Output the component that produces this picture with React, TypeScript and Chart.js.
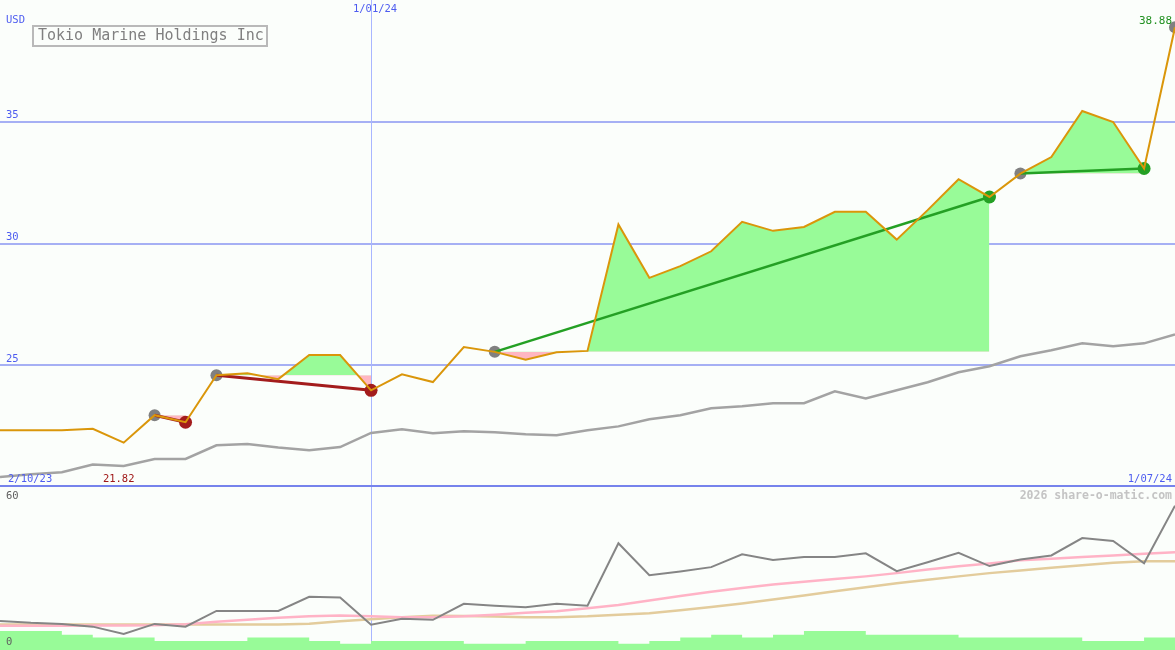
import React, { useEffect, useRef } from 'react';
import { Chart, registerables } from 'chart.js';

Chart.register(...registerables);

// ---- data ----
const title = 'Tokio Marine Holdings Inc';
const currency = 'USD';
const dateLabels = ['2/10/23', '1/01/24', '1/07/24'];
const dateIndex = [0, 12, 38];
const priceGrid = [25, 30, 35];
const lowerLabels = ['60', '0'];
const watermark = '2026 share-o-matic.com';

const price = [22.33, 22.33, 22.33, 22.39, 21.82, 22.95, 22.66, 24.59, 24.67, 24.43, 25.42, 25.42, 23.97, 24.63, 24.31, 25.75, 25.55, 25.23, 25.53, 25.59, 30.78, 28.59, 29.07, 29.68, 30.89, 30.52, 30.68, 31.30, 31.30, 30.16, 31.37, 32.64, 31.91, 32.87, 33.55, 35.44, 34.99, 33.08, 38.88];
const avgPrice = [20.41, 20.52, 20.61, 20.92, 20.86, 21.15, 21.15, 21.71, 21.77, 21.62, 21.51, 21.64, 22.22, 22.37, 22.21, 22.29, 22.25, 22.17, 22.13, 22.33, 22.49, 22.78, 22.95, 23.23, 23.32, 23.44, 23.44, 23.93, 23.64, 23.97, 24.30, 24.71, 24.96, 25.37, 25.62, 25.90, 25.78, 25.90, 26.27];

// signals: start (grey dot) -> end (red = loss, green = gain)
const signalStart = [5, 7, 16, 33];
const signalEnd = [6, 12, 32, 37];
const openSignals = [38];

const oscillator = [10.7, 10.0, 9.6, 8.6, 5.9, 9.6, 8.6, 14.4, 14.4, 14.4, 19.6, 19.3, 9.3, 11.5, 11.1, 17.0, 16.3, 15.7, 17.0, 16.3, 39.3, 27.5, 28.9, 30.5, 35.2, 33.1, 34.2, 34.2, 35.6, 29.0, 32.3, 35.8, 30.9, 33.3, 34.8, 41.2, 40.1, 31.9, 53.1];
const oscAvgFast = [8.9, 8.9, 8.9, 9.0, 9.0, 9.1, 9.5, 10.4, 11.1, 11.9, 12.4, 12.7, 12.4, 12.1, 12.1, 12.4, 13.0, 13.7, 14.3, 15.4, 16.6, 18.2, 19.9, 21.4, 22.8, 24.1, 25.1, 26.1, 27.1, 28.3, 29.6, 30.8, 31.8, 33.0, 33.6, 34.2, 34.8, 35.4, 36.0];
const oscAvgSlow = [9.4, 9.4, 9.4, 9.4, 9.4, 9.4, 9.4, 9.4, 9.4, 9.4, 9.7, 10.6, 11.3, 12.1, 12.6, 12.5, 12.3, 12.1, 12.1, 12.4, 13.0, 13.5, 14.6, 15.8, 17.1, 18.6, 20.1, 21.6, 23.1, 24.6, 25.9, 27.1, 28.3, 29.3, 30.3, 31.2, 32.1, 32.7, 32.7];
const volume = [7.0, 7.0, 5.6, 4.6, 4.6, 3.3, 3.3, 3.3, 4.6, 4.6, 3.3, 2.3, 3.3, 3.3, 3.3, 2.3, 2.3, 3.3, 3.3, 3.3, 2.3, 3.3, 4.6, 5.6, 4.6, 5.6, 7.0, 7.0, 5.6, 5.6, 5.6, 4.6, 4.6, 4.6, 4.6, 3.3, 3.3, 4.6, 4.6];

// ---- style ----
const W = 1175;
const H_TOP = 487;
const H_BOT = 163;
const BG = '#fbfefb';
const BLUE_TEXT = '#4d5cf0';
const GRID = '#a6b0f4';
const VLINE = '#a8b6ff';
const SEP = '#7683ec';
const ORANGE = '#da960a';
const GREEN_FILL = '#98fb98';
const PINK_FILL = '#ffb6c1';
const RED = '#a31c1c';
const GREEN = '#24a024';
const GREY_DOT = '#808080';
const MONO = '"DejaVu Sans Mono", "Liberation Mono", monospace';

const labels = price.map((_, i) => i);
const within = (arr: number[], a: number, b: number) => arr.map((v, i) => (i >= a && i <= b ? v : null));
const flat = (v: number, a: number, b: number) => labels.map((i) => (i >= a && i <= b ? v : null));
const pick = (arr: number[], list: number[]) => arr.map((v, i) => (list.includes(i) ? v : null));

export default function App() {
  const topRef = useRef<HTMLCanvasElement>(null);
  const botRef = useRef<HTMLCanvasElement>(null);

  useEffect(() => {
    document.body.style.margin = '0';
    const ctxTop = topRef.current!;
    const ctxBot = botRef.current!;

    const bases = signalStart.map((s, k) => ({
      data: flat(price[s], s, signalEnd[k]),
      borderWidth: 0,
      pointRadius: 0,
      fill: false,
      order: 20,
    }));
    const fills = signalStart.map((s, k) => ({
      data: within(price, s, signalEnd[k]),
      borderWidth: 0,
      borderColor: 'rgba(0,0,0,0)',
      pointRadius: 0,
      fill: { target: k, above: GREEN_FILL, below: PINK_FILL },
      order: 19,
    }));
    const trends = signalStart.map((s, k) => {
      const e = signalEnd[k];
      const win = price[e] >= price[s];
      return {
        data: pick(price, [s, e]),
        spanGaps: true,
        borderColor: win ? GREEN : RED,
        borderWidth: win ? 2.5 : 3,
        pointRadius: 0,
        fill: false,
        order: 6,
      };
    });
    const ends = signalEnd.map((e, k) => ({ e, win: price[e] >= price[signalStart[k]] }));
    const greyDots = {
      data: pick(price, [...signalStart, ...openSignals]),
      showLine: false,
      pointRadius: 6,
      pointBorderWidth: 0,
      pointBackgroundColor: GREY_DOT,
      order: 8,
    };
    const redDots = {
      data: pick(price, ends.filter((d) => !d.win).map((d) => d.e)),
      showLine: false,
      pointRadius: 6.5,
      pointBorderWidth: 0,
      pointBackgroundColor: RED,
      order: 8,
    };
    const greenDots = {
      data: pick(price, ends.filter((d) => d.win).map((d) => d.e)),
      showLine: false,
      pointRadius: 6.5,
      pointBorderWidth: 0,
      pointBackgroundColor: GREEN,
      order: 8,
    };

    const topOverlay = {
      id: 'topOverlay',
      beforeDraw(chart: any) {
        const c = chart.ctx;
        c.save();
        c.fillStyle = BG;
        c.fillRect(0, 0, chart.width, chart.height);
        c.restore();
      },
      beforeDatasetsDraw(chart: any) {
        const c = chart.ctx;
        const xs = chart.scales.x;
        const ys = chart.scales.y;
        c.save();
        c.fillStyle = GRID;
        priceGrid.forEach((v) => {
          const y = Math.round(ys.getPixelForValue(v));
          c.fillRect(0, y - 1, chart.width, 2);
        });
        c.fillStyle = VLINE;
        const vx = Math.round(xs.getPixelForValue(dateIndex[1]));
        c.fillRect(vx, 0, 1, chart.height);
        c.restore();
      },
      afterDraw(chart: any) {
        const c = chart.ctx;
        const xs = chart.scales.x;
        const ys = chart.scales.y;
        c.save();
        c.fillStyle = SEP;
        c.fillRect(0, chart.height - 2, chart.width, 2);
        c.textBaseline = 'middle';
        c.font = `10.5px ${MONO}`;
        c.fillStyle = BLUE_TEXT;
        c.textAlign = 'left';
        c.fillText(currency, 6, 20);
        priceGrid.forEach((v) => {
          const y = ys.getPixelForValue(v);
          c.fillText(String(v), 6, y - 6);
        });
        c.textAlign = 'center';
        c.fillText(dateLabels[1], xs.getPixelForValue(dateIndex[1]) + 4, 9);
        c.textAlign = 'left';
        c.fillText(dateLabels[0], 8, chart.height - 8);
        c.textAlign = 'right';
        c.fillText(dateLabels[2], chart.width - 3, chart.height - 8);
        let lo = 0;
        price.forEach((v, i) => { if (v < price[lo]) lo = i; });
        c.fillStyle = '#a01818';
        c.textAlign = 'center';
        c.fillText(price[lo].toFixed(2), xs.getPixelForValue(lo) - 5, chart.height - 8);
        const last = price.length - 1;
        c.fillStyle = '#209020';
        c.font = `11px ${MONO}`;
        c.textAlign = 'right';
        c.fillText(price[last].toFixed(2), chart.width - 3, 21);
        c.strokeStyle = '#b9b9b9';
        c.lineWidth = 2;
        c.fillStyle = BG;
        c.fillRect(33, 26, 234, 20);
        c.strokeRect(33, 26, 234, 20);
        c.fillStyle = '#808080';
        c.font = `15px ${MONO}`;
        c.textAlign = 'left';
        c.fillText(title, 38, 36.5);
        c.restore();
      },
    };

    const top = new Chart(ctxTop, {
      type: 'line',
      data: {
        labels,
        datasets: [
          ...bases,
          ...fills,
          {
            data: avgPrice,
            borderColor: '#a3a3a3',
            borderWidth: 2.5,
            pointRadius: 0,
            fill: false,
            order: 10,
          },
          greyDots,
          redDots,
          greenDots,
          ...trends,
          {
            data: price,
            borderColor: ORANGE,
            borderWidth: 2,
            pointRadius: 0,
            fill: false,
            order: 1,
          },
        ] as any,
      },
      options: {
        responsive: false,
        animation: false,
        devicePixelRatio: 1,
        layout: { padding: 0, autoPadding: false },
        elements: { line: { tension: 0 } },
        plugins: { legend: { display: false }, tooltip: { enabled: false } },
        events: [],
        scales: {
          x: { type: 'category', display: false, offset: false },
          y: { type: 'linear', display: false, min: 20, max: 40 },
        },
      } as any,
      plugins: [topOverlay],
    });

    const botOverlay = {
      id: 'botOverlay',
      beforeDraw(chart: any) {
        const c = chart.ctx;
        c.save();
        c.fillStyle = BG;
        c.fillRect(0, 0, chart.width, chart.height);
        c.restore();
      },
      beforeDatasetsDraw(chart: any) {
        const c = chart.ctx;
        const xs = chart.scales.x;
        c.save();
        c.fillStyle = VLINE;
        const vx = Math.round(xs.getPixelForValue(dateIndex[1]));
        c.fillRect(vx, 0, 1, chart.height);
        c.restore();
      },
      afterDraw(chart: any) {
        const c = chart.ctx;
        c.save();
        c.textBaseline = 'middle';
        c.font = `10.5px ${MONO}`;
        c.fillStyle = '#606060';
        c.textAlign = 'left';
        c.fillText(lowerLabels[0], 6, 9);
        c.fillText(lowerLabels[1], 6, chart.height - 8);
        c.font = `bold 11.5px ${MONO}`;
        c.fillStyle = '#c4c4c4';
        c.textAlign = 'right';
        c.fillText(watermark, chart.width - 3, 9);
        c.restore();
      },
    };

    const bot = new Chart(ctxBot, {
      type: 'line',
      data: {
        labels,
        datasets: [
          {
            data: oscillator,
            borderColor: '#858585',
            borderWidth: 2,
            pointRadius: 0,
            fill: false,
            order: 1,
          },
          {
            data: oscAvgFast,
            borderColor: '#ffb3c6',
            borderWidth: 2.5,
            pointRadius: 0,
            fill: false,
            order: 2,
          },
          {
            data: oscAvgSlow,
            borderColor: '#e3cc9c',
            borderWidth: 2.5,
            pointRadius: 0,
            fill: false,
            order: 3,
          },
          {
            data: volume,
            stepped: 'before',
            borderWidth: 0,
            borderColor: 'rgba(0,0,0,0)',
            backgroundColor: GREEN_FILL,
            pointRadius: 0,
            fill: 'origin',
            order: 4,
          },
        ] as any,
      },
      options: {
        responsive: false,
        animation: false,
        devicePixelRatio: 1,
        layout: { padding: 0, autoPadding: false },
        plugins: { legend: { display: false }, tooltip: { enabled: false } },
        events: [],
        scales: {
          x: { type: 'category', display: false, offset: false },
          y: { type: 'linear', display: false, min: 0, max: 60 },
        },
      } as any,
      plugins: [botOverlay],
    });

    return () => {
      top.destroy();
      bot.destroy();
    };
  }, []);

  return (
    <div style={{ position: 'absolute', left: 0, top: 0, width: W, height: H_TOP + H_BOT, background: BG }}>
      <canvas ref={topRef} width={W} height={H_TOP} style={{ display: 'block', width: W, height: H_TOP }} />
      <canvas ref={botRef} width={W} height={H_BOT} style={{ display: 'block', width: W, height: H_BOT }} />
    </div>
  );
}
